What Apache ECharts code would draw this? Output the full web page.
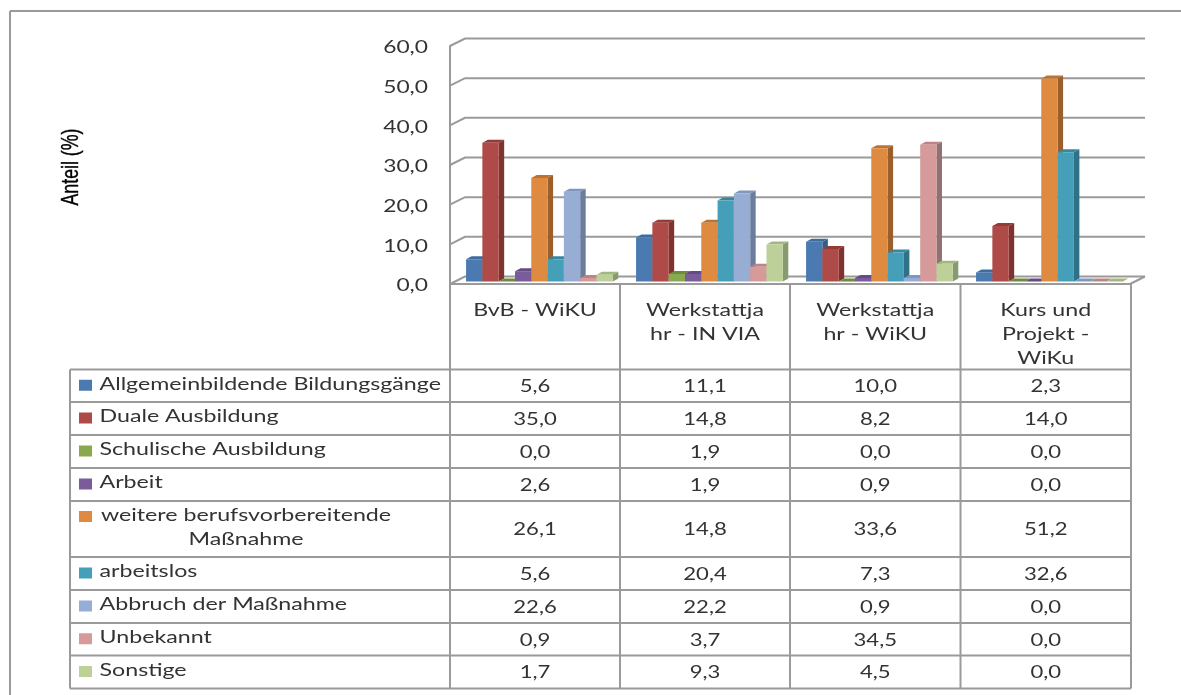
<!DOCTYPE html>
<html><head><meta charset="utf-8">
<style>html,body{margin:0;padding:0;background:#fff}#c{width:1181px;height:695px}</style>
<script src="https://cdn.jsdelivr.net/npm/echarts@6/dist/echarts.min.js"></script>
</head><body><div id="c"></div>
<script>
const categories = ['BvB - WiKU', 'Werkstattja\nhr - IN VIA', 'Werkstattja\nhr - WiKU', 'Kurs und\nProjekt -\nWiKu'];
const yTicks = [0, 10, 20, 30, 40, 50, 60];
const allgemein = [5.6, 11.1, 10.0, 2.3];
const duale = [35.0, 14.8, 8.2, 14.0];
const schulische = [0.0, 1.9, 0.0, 0.0];
const arbeit = [2.6, 1.9, 0.9, 0.0];
const weitere = [26.1, 14.8, 33.6, 51.2];
const arbeitslos = [5.6, 20.4, 7.3, 32.6];
const abbruch = [22.6, 22.2, 0.9, 0.0];
const unbekannt = [0.9, 3.7, 34.5, 0.0];
const sonstige = [1.7, 9.3, 4.5, 0.0];
const seriesNames = ['Allgemeinbildende Bildungsgänge', 'Duale Ausbildung', 'Schulische Ausbildung', 'Arbeit',
  'weitere berufsvorbereitende\nMaßnahme', 'arbeitslos', 'Abbruch der Maßnahme', 'Unbekannt', 'Sonstige'];
const seriesValues = [allgemein, duale, schulische, arbeit, weitere, arbeitslos, abbruch, unbekannt, sonstige];
const colors = ['#4a7ab0', '#ae4a47', '#8aa84f', '#7a5c9a', '#de8a40', '#459fb8', '#97add4', '#d69a9a', '#bdd09a'];
const sideColors = ['#375d87', '#7f3230', '#667d38', '#5a4173', '#9a5f2a', '#2f7186', '#6b7d9c', '#947070', '#889a70'];
const topColors = ['#3d6c9e', '#963a37', '#6f8a3c', '#654a85', '#bc7230', '#37879e', '#7f97bf', '#bd8484', '#a3b880'];

const GRID = {left: 450, top: 46, width: 680, height: 238};
const rowLines = [369.5, 402, 435, 468, 501, 557, 590, 623, 655.5, 688.5];
const colLines = [450, 620, 790, 960.5, 1131];
const DX = 15, DY = 7.5;
const FONT = 'Lato', SX = 1.3, SX_LABEL = 1.365, GRAY = '#9a9a9a', INK = '#333333';
const fmt = v => v.toFixed(1).replace('.', ',');

function wallItem(params, api) {
  const v = api.value(0), y = api.coord([0, v])[1];
  const cs = params.coordSys, x0 = cs.x, x1 = cs.x + cs.width;
  const kids = [{type: 'polyline', shape: {points: [[x0, y], [x0 + DX, y - DY], [x1 + DX, y - DY]]},
    style: {stroke: GRAY, lineWidth: 2, fill: null}}];
  if (v === 0) kids.push({type: 'line', shape: {x1: x1, y1: y, x2: x1 + DX, y2: y - DY}, style: {stroke: GRAY, lineWidth: 2}});
  kids.push({type: 'text', x: x0 - 22, y: y + 2, scaleX: 1.34,
    style: {text: fmt(v), align: 'right', verticalAlign: 'middle', font: '17px ' + FONT, fill: INK}});
  return {type: 'group', children: kids};
}

function barItem(idx) {
  return function (params, api) {
    const c = api.value(0), v = api.value(1);
    const band = api.size([1, 0])[0];
    const cx = api.coord([c, 0])[0], y0 = api.coord([c, 0])[1] - 2.5, yt = y0 - (api.coord([c, 0])[1] - api.coord([c, v])[1]);
    const bw = band * 0.0959, l = cx - band / 2 + band * 0.0945 + idx * bw, r = l + bw;
    const dx = 5.5, dy = 3;
    const kids = [{type: 'polygon', shape: {points: [[l, yt], [l + dx, yt - dy], [r + dx, yt - dy], [r, yt]]}, style: {fill: topColors[idx]}}];
    if (v > 0) {
      kids.push({type: 'polygon', shape: {points: [[r, yt], [r + dx, yt - dy], [r + dx, y0 - dy], [r, y0]]}, style: {fill: sideColors[idx]}});
      kids.push({type: 'rect', shape: {x: l, y: yt, width: bw, height: y0 - yt}, style: {fill: colors[idx]}});
    }
    return {type: 'group', children: kids};
  };
}

const series = [{type: 'custom', name: 'Wand', silent: true, clip: false, z: 1, coordinateSystem: 'cartesian2d',
  encode: {y: 0}, data: yTicks.map(v => [v]), renderItem: wallItem}];
seriesValues.forEach((vals, i) => series.push({
  type: 'custom', name: seriesNames[i].replace('\n', ' '), clip: false, z: 2, coordinateSystem: 'cartesian2d',
  encode: {x: 0, y: 1}, data: vals.map((v, c) => [c, v]), renderItem: barItem(i), itemStyle: {color: colors[i]}
}));

const g = [];
const line = (x1, y1, x2, y2) => g.push({type: 'line', shape: {x1, y1, x2, y2}, style: {stroke: GRAY, lineWidth: 2}, silent: true});
const text = (t, x, y, align, sx) => g.push({type: 'text', x, y, scaleX: sx || SX, silent: true,
  style: {text: t, align: align || 'center', verticalAlign: 'middle', font: '17px ' + FONT, fill: INK, lineHeight: 24}});

line(10, 11, 1181, 11); line(10, 11, 10, 695);
line(colLines[0], GRID.top + GRID.height, colLines[0], rowLines[9]);
colLines.slice(1).forEach(x => line(x, GRID.top + GRID.height, x, rowLines[9]));
line(colLines[0], GRID.top + GRID.height, colLines[4], GRID.top + GRID.height);
rowLines.forEach(y => line(70, y, colLines[4], y));
line(70, rowLines[0], 70, rowLines[9]);

categories.forEach((cat, c) => {
  const cxm = (colLines[c] + colLines[c + 1]) / 2;
  const n = cat.split('\n').length;
  text(cat, cxm, 310.5 + (n - 1) * 12, 'center', SX_LABEL);
});
seriesNames.forEach((name, i) => {
  const top = rowLines[i], bot = rowLines[i + 1], mid = (top + bot) / 2;
  const two = name.includes('\n');
  const swY = two ? top + 15 : mid - 1;
  g.push({type: 'rect', shape: {x: 79, y: swY - 5, width: 13, height: 11}, style: {fill: colors[i]}, silent: true});
  if (two) text(name, 246, mid - 1, 'center', SX_LABEL); else text(name, 99.5, mid - 1.5, 'left', SX_LABEL);
  seriesValues[i].forEach((v, c) => text(fmt(v), (colLines[c] + colLines[c + 1]) / 2, mid + 1));
});
g.push({type: 'text', x: 71.5, y: 167, rotation: Math.PI / 2, scaleX: 0.74, silent: true,
  style: {text: 'Anteil (%)', align: 'center', verticalAlign: 'middle', font: '24px "Liberation Sans"', fill: '#000', stroke: '#000', lineWidth: 0.4}});

const chart = echarts.init(document.getElementById('c'), null, {renderer: 'canvas'});
chart.setOption({
  animation: false,
  backgroundColor: '#fff',
  grid: Object.assign({containLabel: false}, GRID),
  xAxis: {type: 'category', data: categories.map(s => s.replace('\n', '')), axisLine: {show: false}, axisTick: {show: false}, axisLabel: {show: false}, splitLine: {show: false}},
  yAxis: {type: 'value', min: 0, max: 60, interval: 10, axisLine: {show: true, lineStyle: {color: GRAY, width: 2}}, axisTick: {show: false}, axisLabel: {show: false}, splitLine: {show: false}},
  tooltip: {show: false},
  series,
  graphic: {elements: g}
});
</script></body></html>
